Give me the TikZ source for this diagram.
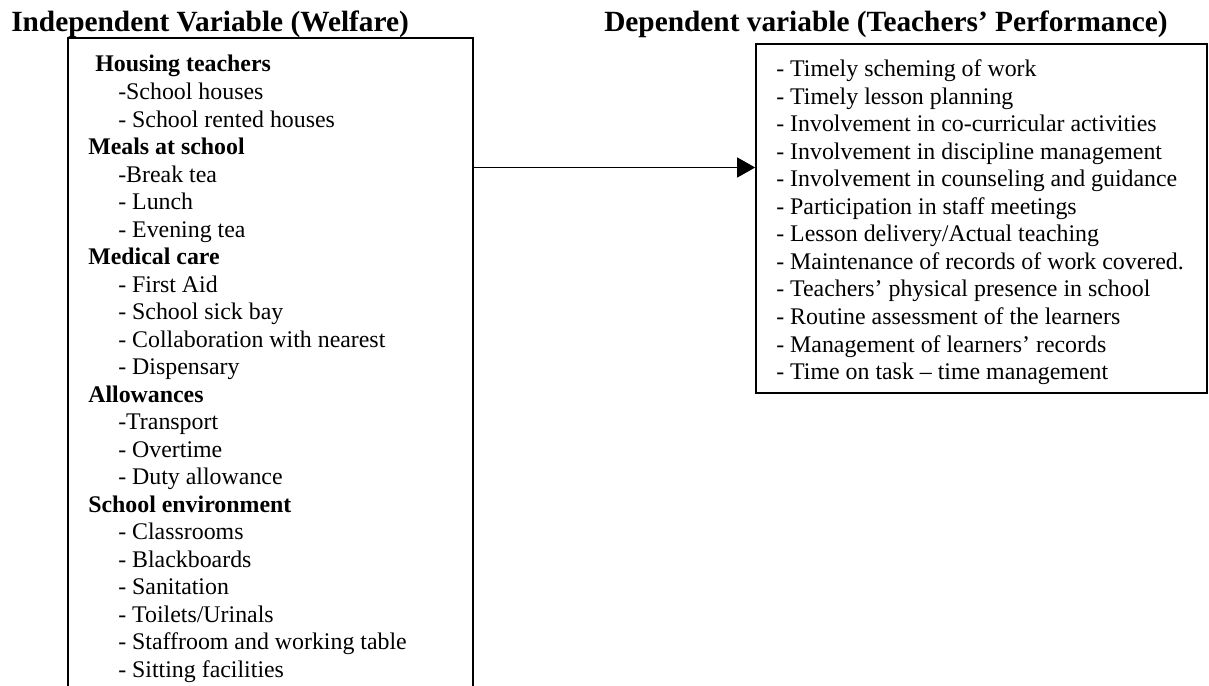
\documentclass[tikz,border=0pt]{standalone}
\usepackage{fontspec}
\setmainfont{Liberation Serif}
\usetikzlibrary{arrows.meta}
\begin{document}
\begin{tikzpicture}[x=0.75pt,y=-0.75pt,
  titletext/.style={font=\fontsize{22}{26}\selectfont\bfseries, anchor=base west, inner sep=0pt},
  head/.style={font=\fontsize{17.9}{20}\selectfont\bfseries, anchor=base west, inner sep=0pt},
  item/.style={font=\fontsize{17.9}{20}\selectfont, anchor=base west, inner sep=0pt},
  boxshape/.style={draw, line width=1.3pt, rectangle, inner sep=0pt},
  link/.style={line width=1.1pt, -{Triangle[length=13.5pt,width=15pt]}}]
\useasboundingbox (0,0) rectangle (1209,685);
\clip (0,0) rectangle (1209,685);
\fill[white] (0,0) rectangle (1209,685);
% titles
\node[titletext] (t1) at (11,32) {Independent Variable (Welfare)};
\node[titletext] (t2) at (604,32) {Dependent variable (Teachers' Performance)};
% boxes
\node[boxshape, minimum width=303.75pt, minimum height=511.5pt] (indep) at (270.5,379) {};
\node[boxshape, minimum width=338.25pt, minimum height=261.75pt] (dep) at (981.5,218.5) {};
% arrow
\coordinate (ay) at (600,167.5);
\draw[link] (indep.east |- ay) -- (dep.west |- ay);
% left box text
\foreach \xx/\st/\tt [count=\i from 0] in {
  95/head/{Housing teachers},
  118/item/{-School houses},
  118/item/{- School rented houses},
  88/head/{Meals at school},
  118/item/{-Break tea},
  118/item/{- Lunch},
  118/item/{- Evening tea},
  88/head/{Medical care},
  118/item/{- First Aid},
  118/item/{- School sick bay},
  118/item/{- Collaboration with nearest},
  118/item/{- Dispensary},
  88/head/{Allowances},
  118/item/{-Transport},
  118/item/{- Overtime},
  118/item/{- Duty allowance},
  88/head/{School environment},
  118/item/{- Classrooms},
  118/item/{- Blackboards},
  118/item/{- Sanitation},
  118/item/{- Toilets/Urinals},
  118/item/{- Staffroom and working table},
  118/item/{- Sitting facilities}}
  \node[\st] (L\i) at (\xx,{72+27.5*\i}) {\tt};
% right box text
\foreach \tt [count=\i from 0] in {
  {- Timely scheming of work},
  {- Timely lesson planning},
  {- Involvement in co-curricular activities},
  {- Involvement in discipline management},
  {- Involvement in counseling and guidance},
  {- Participation in staff meetings},
  {- Lesson delivery/Actual teaching},
  {- Maintenance of records of work covered.},
  {- Teachers' physical presence in school},
  {- Routine assessment of the learners},
  {- Management of learners' records},
  {- Time on task – time management}}
  \node[item] (R\i) at (776,{76.5+27.55*\i}) {\tt};
\end{tikzpicture}
\end{document}
